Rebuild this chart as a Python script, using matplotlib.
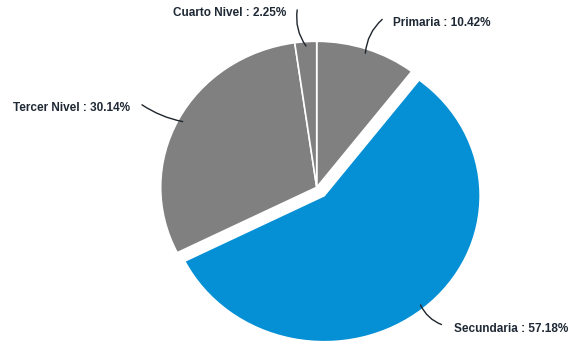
import numpy as np
import matplotlib.pyplot as plt

# Education level shares (%)
levels = ['Primaria', 'Secundaria', 'Tercer Nivel', 'Cuarto Nivel']
shares = [10.42, 57.18, 30.14, 2.25]
colors = ['#808080', '#0590d6', '#808080', '#808080']
explode = [0, 0.075, 0, 0]

# label anchors (data units) and alignment
label_pos = [(0.49, 1.125, 'left'), (0.88, -0.97, 'left'),
             (-1.195, 0.545, 'right'), (-0.195, 1.195, 'right')]
# where each leader line meets its label
line_end = [(0.42, 1.15), (0.80, -0.94), (-1.12, 0.565), (-0.125, 1.215)]
line_rad = [0.2, -0.2, 0.1, 0.2]

plt.rcParams['font.family'] = ['Liberation Sans', 'DejaVu Sans']

fig = plt.figure(figsize=(5.69, 3.47), dpi=100)
ax = fig.add_axes([0, 0, 1, 1])

wedges, _ = ax.pie(shares, colors=colors, explode=explode, startangle=90,
                   counterclock=False, radius=1,
                   wedgeprops=dict(edgecolor='white', linewidth=1.2))

for w, lab, val, (tx, ty, ha), (ex, ey), rad in zip(
        wedges, levels, shares, label_pos, line_end, line_rad):
    mid = np.deg2rad((w.theta1 + w.theta2) / 2)
    cx, cy = w.center
    r = w.r * 0.97
    px, py = cx + r * np.cos(mid), cy + r * np.sin(mid)
    ax.annotate('', xy=(px, py), xytext=(ex, ey),
                arrowprops=dict(arrowstyle='-', color='#1e252d', lw=1.0,
                                shrinkA=0, shrinkB=0,
                                connectionstyle=f'arc3,rad={rad}'))
    ax.text(tx, ty, f'{lab} : {val:.2f}%', ha=ha, va='center',
            fontsize=8.5, fontweight='bold', color='#1f2935')

# slightly wider than tall, as drawn
ax.set_xlim(-316.7 / 156, (569 - 316.7) / 156)
ax.set_ylim(-159.7 / 146, 187.3 / 146)
ax.set_aspect('auto')
ax.axis('off')

fig.savefig('out.png', dpi=100)
